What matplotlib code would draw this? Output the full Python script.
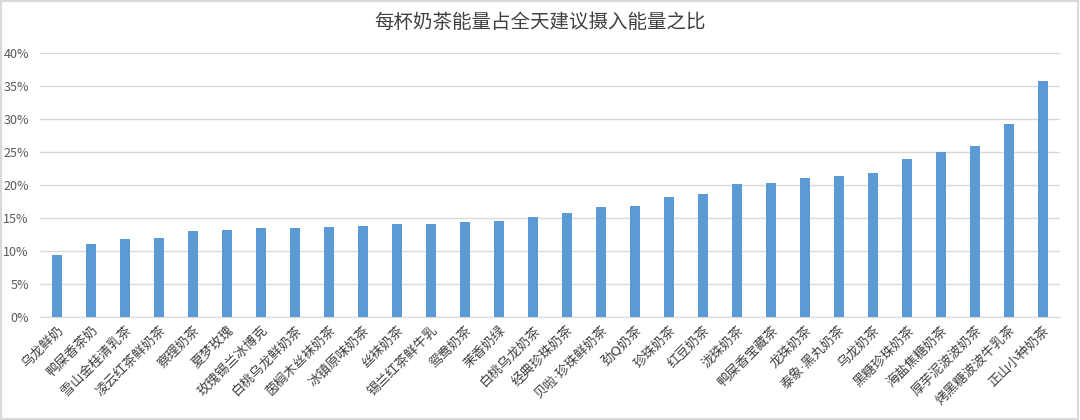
import matplotlib.pyplot as plt
from matplotlib.patches import Rectangle
from matplotlib.ticker import FuncFormatter

plt.rcParams['font.family'] = ['Noto Sans CJK SC', 'DejaVu Sans']

names = ['乌龙鲜奶', '鸭屎香茶奶', '雪山金桂清乳茶', '凌云红茶鲜奶茶', '察理奶茶',
         '夏梦玫瑰', '玫瑰锡兰冰博克', '白桃乌龙鲜奶茶', '茵榈木丝袜奶茶', '冰镇原味奶茶',
         '丝袜奶茶', '锡兰红茶鲜牛乳', '鸳鸯奶茶', '茉香奶绿', '白桃乌龙奶茶',
         '经典珍珠奶茶', '贝啦·珍珠鲜奶茶', '劲Q奶茶', '珍珠奶茶', '红豆奶茶',
         '泷珠奶茶', '鸭屎香宝藏茶', '龙珠奶茶', '泰象·黑丸奶茶', '乌龙奶茶',
         '黑糖珍珠奶茶', '海盐焦糖奶茶', '厚芋泥波波奶茶', '烤黑糖波波牛乳茶', '正山小种奶茶']
ratio = [0.094, 0.110, 0.118, 0.119, 0.130,
         0.132, 0.134, 0.135, 0.136, 0.138,
         0.141, 0.141, 0.144, 0.146, 0.152,
         0.157, 0.166, 0.168, 0.182, 0.186,
         0.202, 0.203, 0.210, 0.214, 0.218,
         0.240, 0.250, 0.259, 0.292, 0.358]

fig = plt.figure(figsize=(10.8, 4.2), dpi=100)
ax = fig.add_axes([40/1080, 1 - 316.7/420, 1020/1080, (316.7 - 53.3)/420])

x = range(len(names))
ax.bar(x, ratio, width=0.32, color='#5B9BD5', zorder=3)

ax.set_xlim(-0.5, len(names) - 0.5)
ax.set_ylim(0, 0.40)
ax.set_yticks([i * 0.05 for i in range(9)])
ax.yaxis.set_major_formatter(FuncFormatter(lambda v, p: '%d%%' % round(v * 100)))
ax.grid(axis='y', color='#D9D9D9', linewidth=1, zorder=0)
for s in ['top', 'right', 'left']:
    ax.spines[s].set_visible(False)
ax.spines['bottom'].set_color('#D9D9D9')
ax.tick_params(axis='both', length=0, colors='#595959', labelsize=9)
ax.tick_params(axis='y', pad=8)
ax.tick_params(axis='x', pad=5)
ax.set_xticks(list(x))
ax.set_xticklabels(names, rotation=45, ha='right', rotation_mode='anchor', color='#404040',
                   fontsize=9.5, family=['DejaVu Sans', 'Noto Sans CJK SC'])

fig.text(0.5, 1 - 22/420, '每杯奶茶能量占全天建议摄入能量之比', ha='center', va='center',
         fontsize=14, color='#404040')

fig.patches.append(Rectangle((0.001, 0.002), 0.997, 0.995, transform=fig.transFigure,
                             fill=False, edgecolor='#D9D9D9', linewidth=1.5))

plt.savefig('out.png')
